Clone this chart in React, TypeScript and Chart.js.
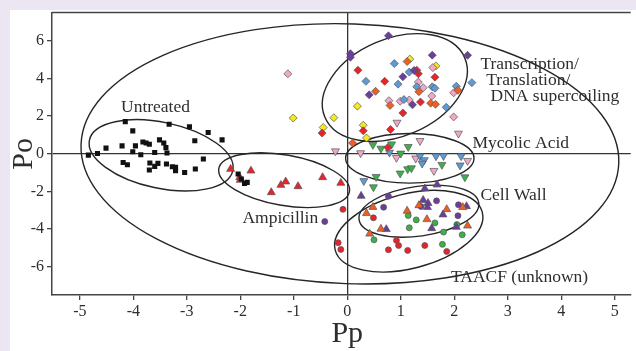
import React, { useEffect, useRef } from 'react';
import { Chart, registerables } from 'chart.js';

Chart.register(...registerables);

type P = [number, number];

// ---- axis ticks ----
const xTickValues = [-5, -4, -3, -2, -1, 0, 1, 2, 3, 4, 5];
const yTickValues = [-6, -4, -2, 0, 2, 4, 6];
const X_MIN = -5.52;
const X_MAX = 5.3;
const Y_MIN = -7.5;
const Y_MAX = 7.5;

// ---- series ----
const untreated: P[] = [
  [-4.15, 1.71], [-3.33, 1.57], [-2.95, 1.44], [-2.6, 1.13], [-4.01, 1.22], [-2.85, 0.69],
  [-2.34, 0.74], [-3.82, 0.63], [-3.76, 0.57], [-3.7, 0.51], [-3.51, 0.74], [-3.43, 0.57],
  [-3.39, 0.33], [-3.96, 0.42], [-4.21, 0.42], [-4.51, 0.3], [-4.01, 0.11], [-3.86, -0.05],
  [-3.6, 0.07], [-3.37, 0.04], [-4.84, -0.07], [-4.67, 0.02], [-2.69, -0.28], [-4.19, -0.46],
  [-4.11, -0.58], [-3.69, -0.49], [-3.54, -0.51], [-3.7, -0.86], [-3.6, -0.67], [-3.38, -0.54],
  [-3.27, -0.69], [-3.21, -0.9], [-3.04, -0.99], [-2.84, -0.81], [-2.04, -1.07], [-1.98, -1.34],
  [-1.92, -1.57], [-1.87, -1.52], [-3.21, -0.72],
];

const ampicillinRed: P[] = [
  [-2.18, -0.81], [-1.8, -0.9], [-2.01, -1.25], [-2.0, -1.39], [-1.15, -1.48], [-1.24, -1.66],
  [-0.92, -1.73], [-1.42, -2.05], [-0.46, -1.25], [-0.12, -1.55],
];

const transPurple: P[] = [
  [0.77, 6.27], [0.06, 5.32], [0.06, 5.13], [1.59, 5.24], [2.25, 5.23], [1.04, 4.09],
  [1.25, 4.43], [0.41, 3.13], [1.22, 2.6],
];
const transRed: P[] = [
  [0.2, 4.44], [1.33, 4.25], [1.3, 4.44], [1.64, 4.07], [0.7, 3.85], [1.37, 2.75],
  [1.04, 2.17], [0.3, 1.22], [0.81, 1.29], [-0.47, 1.1], [0.76, 0.34],
];
const transOrange: P[] = [
  [1.12, 4.9], [0.53, 3.32], [0.8, 2.57], [1.56, 2.69], [1.65, 2.63], [1.34, 3.3],
  [2.07, 3.37], [0.1, 0.57],
];
const transBlue: P[] = [
  [0.88, 4.79], [1.16, 4.34], [0.35, 3.85], [0.95, 3.7], [1.3, 3.56], [1.59, 3.56],
  [1.64, 3.48], [2.04, 3.59], [2.33, 3.78], [1.06, 2.88], [1.85, 2.47],
];
const transPink: P[] = [
  [-1.11, 4.25], [1.6, 4.58], [1.33, 3.81], [1.42, 3.51], [1.58, 3.07], [1.99, 3.24],
  [0.78, 2.82], [0.99, 2.79], [1.16, 2.86], [1.99, 1.96],
];
const transYellow: P[] = [
  [1.17, 5.03], [1.66, 4.67], [0.19, 2.53], [-0.25, 1.92], [-1.01, 1.9], [-0.45, 1.4],
  [0.3, 1.52], [0.36, 0.84],
];

const mycolicGreen: P[] = [
  [0.48, 0.48], [0.63, 0.28], [0.83, 0.51], [1.14, 0.37], [1.0, 0.02], [1.77, -0.58],
  [1.13, -0.81], [1.2, -0.76], [0.99, -1.04], [0.54, -1.22], [2.2, -1.24], [0.49, -1.77],
];
const mycolicBlue: P[] = [
  [0.79, 0.07], [1.36, -0.12], [1.44, -0.33], [1.66, -0.12], [1.8, -0.11], [1.4, -0.51],
  [2.13, -0.12], [2.11, -0.61], [0.31, -1.44],
];
const mycolicPink: P[] = [
  [0.93, 1.66], [2.08, 1.08], [-0.22, 0.14], [0.25, 0.04], [1.36, 0.69], [0.92, -0.21],
  [1.28, -0.24], [2.25, -0.37], [1.62, -0.9],
];

const cellWallOrange: P[] = [
  [0.48, -2.83], [0.36, -3.16], [1.12, -3.03], [1.34, -2.74], [1.86, -2.95], [2.16, -2.84],
  [1.49, -3.48], [0.63, -3.99], [0.42, -4.25], [2.25, -3.82],
];
const cellWallPurple: P[] = [
  [1.45, -1.85], [1.68, -1.64], [0.26, -2.24], [1.42, -2.46], [1.51, -2.62], [1.5, -2.84],
  [1.79, -3.23], [2.23, -2.79], [0.73, -4.01], [1.58, -3.96], [2.04, -3.89],
];

const taacfRed: P[] = [
  [-0.08, -2.95], [-0.17, -4.72], [-0.12, -5.08], [0.49, -3.4], [0.92, -4.6], [0.96, -4.87],
  [0.77, -5.1], [1.13, -5.13], [1.45, -4.87], [1.86, -5.19],
];
const taacfGreen: P[] = [
  [1.14, -3.28], [1.29, -3.51], [1.16, -3.93], [1.64, -3.67], [1.8, -4.16], [2.05, -3.76],
  [2.15, -4.3], [0.5, -4.57], [1.78, -4.81],
];
const taacfPurple: P[] = [
  [0.77, -2.26], [0.68, -2.84], [1.38, -2.8], [1.67, -2.5], [2.08, -2.71], [2.07, -3.29],
  [-0.42, -3.6],
];

// ---- group ellipses (centre, semi-axes in data units, tilt in degrees) ----
const ellipseNames = ['All', 'Untreated', 'Ampicillin', 'Transcription', 'Mycolic', 'CellWall', 'TAACF'];
const ellipseCx = [0.05, -3.48, -1.18, 0.89, 1.17, 1.34, 1.15];
const ellipseCy = [0.0, -0.08, -1.4, 3.52, -0.24, -3.05, -4.11];
const ellipseRx = [5.03, 1.37, 1.24, 1.42, 1.2, 1.13, 1.42];
const ellipseRy = [6.9, 1.75, 1.34, 2.59, 1.32, 1.32, 1.98];
const ellipseRot = [2, 12, 10, -23, 0, -8, -14.5];

// ---- group labels (left x, baseline y in data units) ----
const labelTexts = ['Untreated', 'Ampicillin', 'Transcription/', 'Translation/', 'DNA supercoiling', 'Mycolic Acid', 'Cell Wall', 'TAACF (unknown)'];
const labelX = [-4.23, -1.96, 2.49, 2.6, 2.68, 2.34, 2.49, 1.94];
const labelY = [2.22, -3.7, 4.5, 3.65, 2.8, 0.32, -2.43, -6.83];

const RED = '#e8232a';
const ORANGE = '#ef5f24';
const BLUE = '#5b9bd6';
const PURPLE = '#6c3d9c';
const PINK = '#f2a7c9';
const YELLOW = '#f5e81c';
const GREEN = '#3cb14a';

const SERIF = "'Liberation Serif', 'DejaVu Serif', serif";
const TEXT = '#2e2e2e';

const toXY = (arr: P[]) => arr.map(([x, y]) => ({ x, y }));

function ds(label: string, arr: P[], color: string, style: string, radius: number, rotation = 0, border = '#555') {
  return {
    label,
    data: toXY(arr),
    backgroundColor: color,
    borderColor: border,
    borderWidth: border === color ? 0 : 0.7,
    pointStyle: style,
    pointRadius: radius,
    pointRotation: rotation,
    pointHoverRadius: radius,
  };
}

const decorPlugin = {
  id: 'decor',
  beforeDraw(chart: any) {
    const ctx = chart.ctx;
    ctx.save();
    ctx.fillStyle = '#ece6f2';
    ctx.fillRect(0, 0, chart.width, chart.height);
    ctx.fillStyle = '#ffffff';
    ctx.fillRect(10, 10, chart.width - 10, chart.height - 10);
    ctx.restore();
  },
  beforeDatasetsDraw(chart: any) {
    const ctx = chart.ctx;
    const xs = chart.scales.x;
    const ys = chart.scales.y;
    const a = chart.chartArea;
    ctx.save();
    ctx.beginPath();
    ctx.rect(a.left, a.top, a.right - a.left, a.bottom - a.top);
    ctx.clip();
    ctx.strokeStyle = '#262626';
    ctx.lineWidth = 1.4;
    for (let i = 0; i < ellipseNames.length; i++) {
      const cx = xs.getPixelForValue(ellipseCx[i]);
      const cy = ys.getPixelForValue(ellipseCy[i]);
      const rx = Math.abs(xs.getPixelForValue(ellipseCx[i] + ellipseRx[i]) - cx);
      const ry = Math.abs(ys.getPixelForValue(ellipseCy[i] + ellipseRy[i]) - cy);
      ctx.beginPath();
      ctx.ellipse(cx, cy, rx, ry, (ellipseRot[i] * Math.PI) / 180, 0, Math.PI * 2);
      ctx.stroke();
    }
    ctx.restore();
  },
  afterDatasetsDraw(chart: any) {
    const ctx = chart.ctx;
    const xs = chart.scales.x;
    const ys = chart.scales.y;
    ctx.save();
    ctx.fillStyle = TEXT;
    ctx.font = `17.5px ${SERIF}`;
    ctx.textAlign = 'left';
    ctx.textBaseline = 'alphabetic';
    for (let i = 0; i < labelTexts.length; i++) {
      ctx.fillText(labelTexts[i], xs.getPixelForValue(labelX[i]), ys.getPixelForValue(labelY[i]));
    }
    ctx.restore();
  },
  afterDraw(chart: any) {
    const ctx = chart.ctx;
    const a = chart.chartArea;
    ctx.save();
    ctx.strokeStyle = '#444';
    ctx.lineWidth = 1.5;
    ctx.beginPath();
    ctx.moveTo(a.left, a.top);
    ctx.lineTo(a.right, a.top);
    ctx.stroke();
    // axis titles
    ctx.fillStyle = TEXT;
    ctx.font = `30px ${SERIF}`;
    ctx.textAlign = 'center';
    ctx.textBaseline = 'alphabetic';
    ctx.fillText('Pp', chart.scales.x.getPixelForValue(0), 342);
    ctx.translate(32, (a.top + a.bottom) / 2);
    ctx.rotate(-Math.PI / 2);
    ctx.fillText('Po', 0, 0);
    ctx.restore();
  },
};

const gridColor = (c: any) => (c.tick && c.tick.value === 0 ? '#333333' : 'rgba(0,0,0,0)');

export default function App() {
  const ref = useRef<HTMLCanvasElement | null>(null);

  useEffect(() => {
    document.body.style.margin = '0';
    const canvas = ref.current;
    if (!canvas) return;
    const chart = new Chart(canvas, {
      type: 'scatter',
      data: {
        datasets: [
          ds('Untreated', untreated, '#111111', 'rect', 3.6, 0, '#111111'),
          ds('Ampicillin', ampicillinRed, RED, 'triangle', 4.6),
          ds('Transcription purple', transPurple, PURPLE, 'rectRot', 4),
          ds('Transcription red', transRed, RED, 'rectRot', 4),
          ds('Transcription orange', transOrange, ORANGE, 'rectRot', 4),
          ds('Transcription blue', transBlue, BLUE, 'rectRot', 4),
          ds('Transcription pink', transPink, PINK, 'rectRot', 4),
          ds('Transcription yellow', transYellow, YELLOW, 'rectRot', 4),
          ds('Mycolic green', mycolicGreen, GREEN, 'triangle', 4.6, 180),
          ds('Mycolic blue', mycolicBlue, BLUE, 'triangle', 4.6, 180),
          ds('Mycolic pink', mycolicPink, PINK, 'triangle', 4.6, 180),
          ds('Cell wall orange', cellWallOrange, ORANGE, 'triangle', 4.6),
          ds('Cell wall purple', cellWallPurple, PURPLE, 'triangle', 4.6),
          ds('TAACF red', taacfRed, RED, 'circle', 3),
          ds('TAACF green', taacfGreen, GREEN, 'circle', 3),
          ds('TAACF purple', taacfPurple, PURPLE, 'circle', 3),
        ] as any,
      },
      options: {
        animation: false,
        responsive: false,
        maintainAspectRatio: false,
        layout: { padding: { left: 0, right: 0, top: 12, bottom: 0 } },
        plugins: { legend: { display: false }, tooltip: { enabled: false }, title: { display: false } },
        scales: {
          x: {
            type: 'linear',
            min: X_MIN,
            max: X_MAX,
            afterBuildTicks: (s: any) => { s.ticks = xTickValues.map((v) => ({ value: v })); },
            afterFit: (s: any) => { s.height = 56; },
            ticks: {
              color: TEXT,
              font: { family: SERIF, size: 16 },
              padding: 2,
              maxRotation: 0,
              autoSkip: false,
              callback: (v: any) => String(v),
            },
            grid: { color: gridColor, lineWidth: 1.3, tickColor: '#444', tickLength: 5, drawTicks: true },
            border: { display: true, color: '#444', width: 1.5 },
          },
          y: {
            type: 'linear',
            min: Y_MIN,
            max: Y_MAX,
            afterBuildTicks: (s: any) => { s.ticks = yTickValues.map((v) => ({ value: v })); },
            afterFit: (s: any) => { s.width = 52; },
            ticks: {
              color: TEXT,
              font: { family: SERIF, size: 16 },
              padding: 3,
              autoSkip: false,
              callback: (v: any) => String(v),
            },
            grid: { color: gridColor, lineWidth: 1.3, tickColor: '#444', tickLength: 5, drawTicks: true },
            border: { display: true, color: '#444', width: 1.5 },
          },
        },
      } as any,
      plugins: [decorPlugin],
    });
    return () => chart.destroy();
  }, []);

  return <canvas ref={ref} width={636} height={351} style={{ display: 'block', width: 636, height: 351 }} />;
}
